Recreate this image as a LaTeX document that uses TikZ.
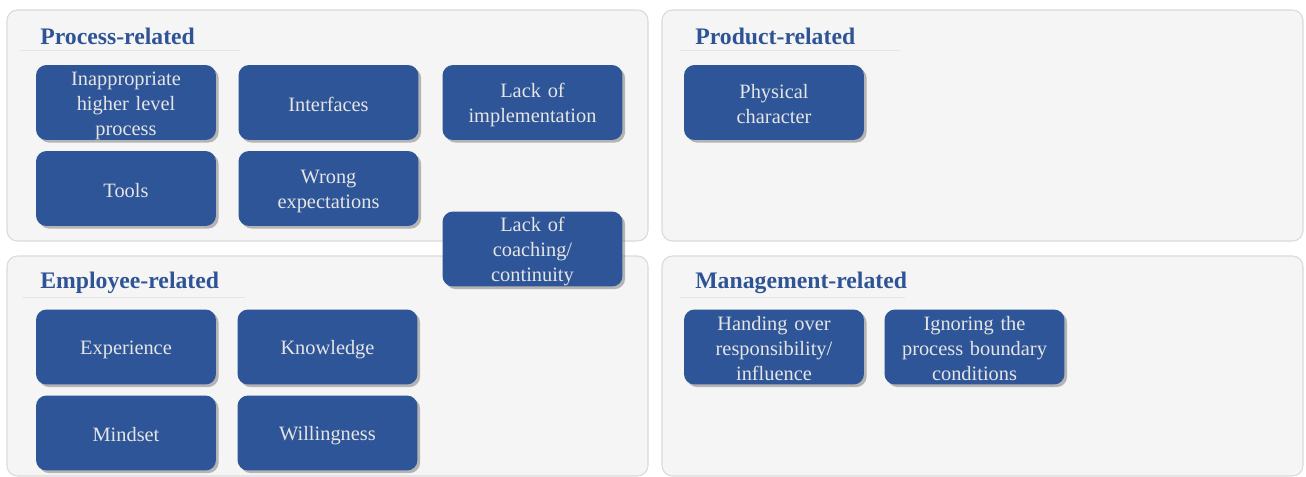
\documentclass[tikz,border=0pt]{standalone}
\usepackage{fontspec}
\setmainfont{Liberation Serif}
\definecolor{causeblue}{RGB}{46, 85, 151}
\definecolor{titleblue}{RGB}{47, 84, 150}
\definecolor{panelgray}{RGB}{245, 245, 245}
\definecolor{panelline}{RGB}{218, 218, 218}
\usetikzlibrary{shadows}

\begin{document}
\begin{tikzpicture}[x=0.02cm, y=-0.02cm,
  panel/.style={draw=panelline, fill=panelgray, rounded corners=6pt, line width=0.6pt},
  ttl/.style={anchor=west, inner sep=0pt, text=titleblue, font=\fontsize{13.5}{15}\selectfont\bfseries},
  rule/.style={draw=panelline!70, line width=0.5pt},
  cause/.style={fill=causeblue, rounded corners=6pt, minimum width=3.6cm, minimum height=1.5cm, text width=3.3cm,
    align=center, inner sep=0pt, text=white!90!black, font=\fontsize{11.6}{14.2}\selectfont,
    execute at begin node=\rule{0pt}{11.5pt}, execute at end node=\rule[-1.8pt]{0pt}{1.8pt},
    drop shadow={shadow xshift=1.5pt, shadow yshift=-1.5pt, opacity=0.45, fill=black!60}}
]
  \useasboundingbox (0,0) rectangle (1306,477);
  % four category panels
  \draw[panel] (7,10) rectangle (648,241);
  \draw[panel] (662,10) rectangle (1303,241);
  \draw[panel] (7,256) rectangle (648,476);
  \draw[panel] (662,256) rectangle (1303,476);
  % headings
  \node[ttl] (tproc) at (40,36) {Process-related};
  \node[ttl] (tprod) at (695,36) {Product-related};
  \node[ttl] (temp) at (40,283) {Employee-related};
  \node[ttl] (tman) at (695,283) {Management-related};
  \draw[rule] (20,50) -- (240,50);
  \draw[rule] (680,50) -- (900,50);
  \draw[rule] (22,297) -- (245,297);
  \draw[rule] (680,297) -- (905,297);
  % process
  \node[cause] (c1) at (126,102.5) {Inappropriate\\higher level\\process};
  \node[cause] (c2) at (328.5,102.5) {Interfaces};
  \node[cause] (c3) at (532.5,102.5) {Lack of\\implementation};
  \node[cause] (c4) at (126,188.5) {Tools};
  \node[cause] (c5) at (328.5,188.5) {Wrong\\expectations};
  % product
  \node[cause] (p1) at (774,102.5) {Physical\\character};
  % employee
  \node[cause] (e1) at (126,347) {Experience};
  \node[cause] (e2) at (327.5,347) {Knowledge};
  \node[cause] (e3) at (126,433) {Mindset};
  \node[cause] (e4) at (327.5,433) {Willingness};
  % management
  \node[cause] (m1) at (774,347) {Handing over\\responsibility/\\influence};
  \node[cause] (m2) at (974.5,347) {Ignoring the\\process boundary\\conditions};
  % spans process and employee
  \node[cause] (c6) at (532.5,249) {Lack of\\coaching/\\continuity};
\end{tikzpicture}
\end{document}
